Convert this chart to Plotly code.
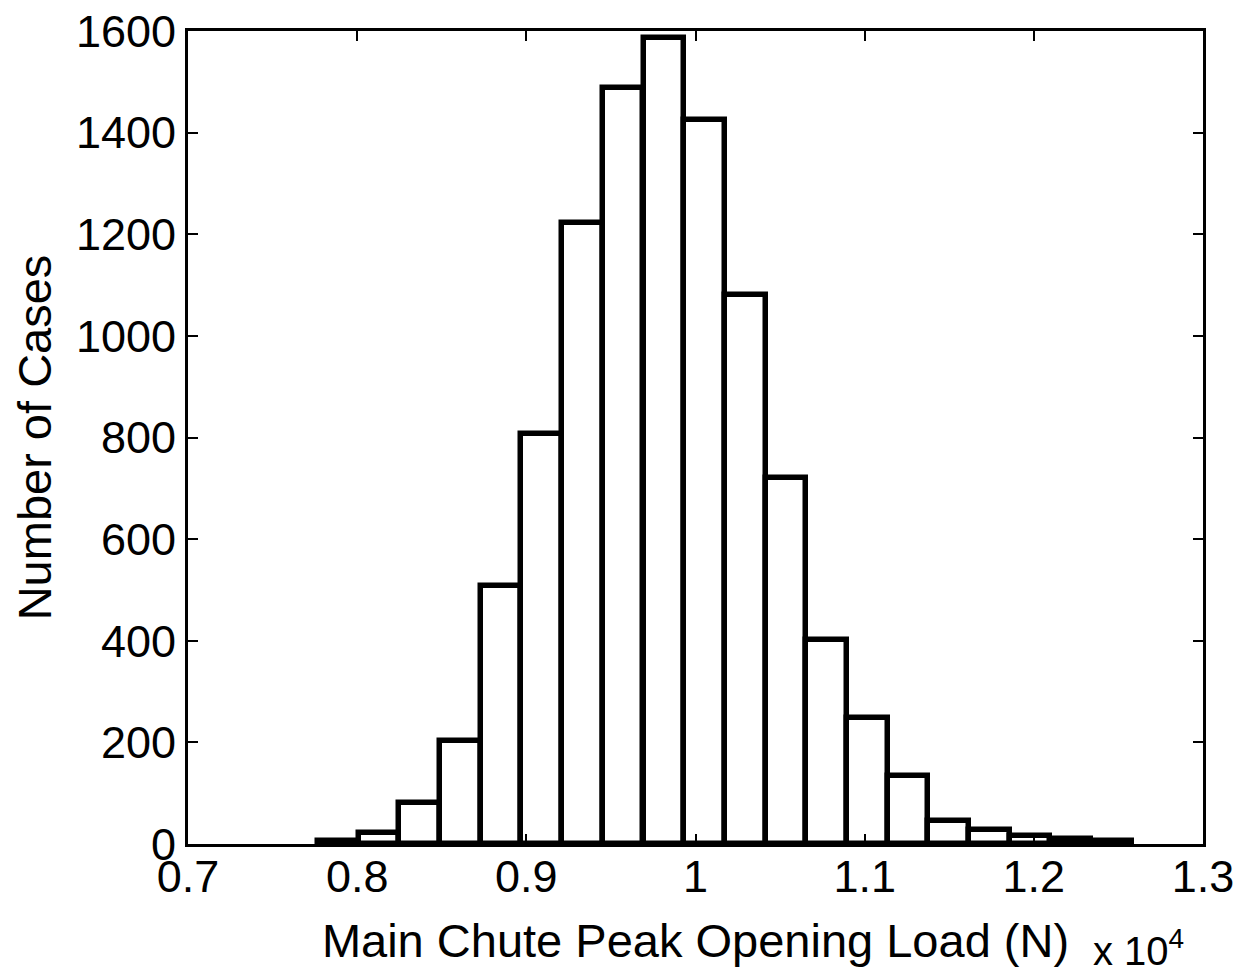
import plotly.graph_objects as go

# Bin centres (x 10^4 N) and counts
bin_centers = [0.7888, 0.8129, 0.8370, 0.8610, 0.8851, 0.9091, 0.9332, 0.9572, 0.9813, 1.0054,
               1.0294, 1.0535, 1.0775, 1.1016, 1.1256, 1.1497, 1.1738, 1.1978, 1.2219, 1.2459]
counts = [5, 22, 80, 202, 508, 807, 1223, 1488, 1586, 1425,
          1081, 720, 401, 248, 133, 46, 27, 16, 10, 6]
bin_width = 0.02406

x_ticks = [0.7, 0.8, 0.9, 1.0, 1.1, 1.2, 1.3]
x_tick_labels = ["0.7", "0.8", "0.9", "1", "1.1", "1.2", "1.3"]
y_ticks = [0, 200, 400, 600, 800, 1000, 1200, 1400, 1600]
y_tick_labels = [str(v) for v in y_ticks]

FONT = "Liberation Sans, Arial, Helvetica, sans-serif"

fig = go.Figure()
fig.add_trace(go.Bar(
    x=bin_centers,
    y=counts,
    width=[bin_width] * len(counts),
    marker=dict(color="white", line=dict(color="black", width=5.5)),
    showlegend=False,
))

axis_common = dict(
    showline=True, linecolor="black", linewidth=3, mirror="ticks",
    ticks="inside", ticklen=10, tickwidth=2, tickcolor="black",
    showgrid=False, zeroline=False, ticklabeloverflow="allow",
    automargin=False,
    tickfont=dict(family=FONT, size=45, color="black"),
)

fig.update_layout(
    width=1245, height=977,
    paper_bgcolor="white", plot_bgcolor="white",
    margin=dict(l=188, r=42, t=31, b=133),
    bargap=0,
    xaxis=dict(range=[0.7, 1.3], tickvals=x_ticks, ticktext=x_tick_labels,
               ticklabelstandoff=-9,
               title=dict(text="Main Chute Peak Opening Load (N)",
                          font=dict(family=FONT, size=47, color="black"), standoff=24),
               **axis_common),
    yaxis=dict(range=[0, 1600], tickvals=y_ticks, ticktext=y_tick_labels,
               title=dict(text="Number of Cases",
                          font=dict(family=FONT, size=47, color="black"), standoff=10),
               **axis_common),
    annotations=[dict(
        text="x 10<sup>4</sup>", xref="paper", yref="paper",
        x=0.936, y=-0.128, xanchor="center", yanchor="middle",
        showarrow=False, font=dict(family=FONT, size=40, color="black"),
    )],
)

fig.write_html("out.html", config={"displayModeBar": False},
               post_script="document.body.style.margin='0px';")
